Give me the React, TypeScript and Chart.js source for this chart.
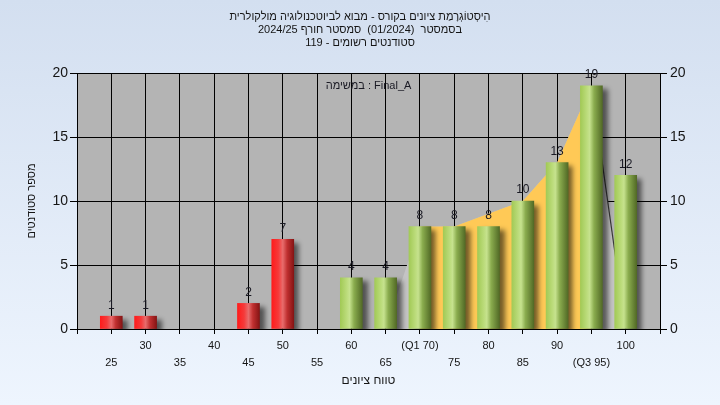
import React, { useEffect, useRef } from 'react';
import { Chart, registerables } from 'chart.js';

Chart.register(...registerables);

const FONT = '"Liberation Sans", Arial, "DejaVu Sans", sans-serif';

const titleLines = [
  'הִיסְטוֹגְרָמַת ציונים בקורס - מבוא לביוטכנולוגיה מולקולרית',
  'בסמסטר  (01/2024)  סמסטר חורף 2024/25',
  'סטודנטים רשומים - 119',
];
const annotationText = 'במשימה : Final_A';
const xTitle = 'טווח ציונים';
const yTitle = 'מספר סטודנטים';

const categories = [25, 30, 35, 40, 45, 50, 55, 60, 65, 70, 75, 80, 85, 90, 95, 100];
const tickLabels = ['25', '30', '35', '40', '45', '50', '55', '60', '65', '(Q1 70)', '75', '80', '85', '90', '(Q3 95)', '100'];
const studentCounts = [1, 1, 0, 0, 2, 7, 0, 4, 4, 8, 8, 8, 10, 13, 19, 12];
const passMark = 55;

const curveCategories = [65, 70, 75, 80, 85, 90, 95, 100];
const curveValues = [0, 8, 8, 9, 10, 13, 19, 0];
const q1 = 70;
const q3 = 95;

const yMin = 0;
const yMax = 20;
const yStep = 5;
const xMin = 20;
const xMax = 105;

function makeBarGradient(ctx: CanvasRenderingContext2D, cx: number, half: number, failing: boolean) {
  const g = ctx.createLinearGradient(cx - half, 0, cx + half, 0);
  if (failing) {
    g.addColorStop(0, '#ff1c1c');
    g.addColorStop(0.3, '#f53a3a');
    g.addColorStop(0.5, '#e86c6c');
    g.addColorStop(0.7, '#c03030');
    g.addColorStop(1, '#861414');
  } else {
    g.addColorStop(0, '#a2ca56');
    g.addColorStop(0.3, '#bcdc7c');
    g.addColorStop(0.42, '#c6e28e');
    g.addColorStop(0.62, '#8aac4e');
    g.addColorStop(1, '#526a26');
  }
  return g;
}

export default function App() {
  const canvasRef = useRef<HTMLCanvasElement | null>(null);

  useEffect(() => {
    document.body.style.margin = '0';
    const canvas = canvasRef.current;
    if (!canvas) return;

    const barData = categories.map((c, i) => ({ x: c, y: studentCounts[i] > 0 ? studentCounts[i] : null }));
    const curveData = curveCategories.map((c, i) => ({ x: c, y: curveValues[i] }));
    const iqrData = curveData.filter((p) => p.x >= q1 && p.x <= q3);

    const bgPlugin = {
      id: 'bgPlugin',
      beforeDraw(chart: any) {
        const { ctx, chartArea, width, height } = chart;
        ctx.save();
        const g = ctx.createLinearGradient(0, 0, 0, height);
        g.addColorStop(0, '#d3dff0');
        g.addColorStop(1, '#eef5fe');
        ctx.fillStyle = g;
        ctx.fillRect(0, 0, width, height);
        ctx.fillStyle = '#b4b4b4';
        ctx.fillRect(chartArea.left, chartArea.top, chartArea.right - chartArea.left, chartArea.bottom - chartArea.top);
        ctx.fillStyle = '#151515';
        ctx.font = `11px ${FONT}`;
        ctx.textAlign = 'center';
        ctx.textBaseline = 'middle';
        (ctx as any).direction = 'rtl';
        titleLines.forEach((t, i) => ctx.fillText(t, width / 2, 17 + i * 12.8));
        ctx.restore();
      },
    };

    const shadowPlugin = {
      id: 'shadowPlugin',
      beforeDatasetDraw(chart: any, args: any) {
        if (args.meta.type !== 'bar') return;
        const ctx = chart.ctx;
        ctx.save();
        ctx.shadowColor = 'rgba(0,0,0,0.55)';
        ctx.shadowOffsetX = 5;
        ctx.shadowOffsetY = 4;
        ctx.shadowBlur = 5;
      },
      afterDatasetDraw(chart: any, args: any) {
        if (args.meta.type !== 'bar') return;
        chart.ctx.restore();
      },
    };

    const labelPlugin = {
      id: 'labelPlugin',
      afterDatasetsDraw(chart: any) {
        const ctx = chart.ctx;
        const meta = chart.getDatasetMeta(0);
        ctx.save();
        ctx.font = `12px ${FONT}`;
        ctx.fillStyle = '#1a1a24';
        ctx.textAlign = 'center';
        ctx.textBaseline = 'middle';
        meta.data.forEach((el: any, i: number) => {
          const v = studentCounts[i];
          if (!v) return;
          ctx.fillText(String(v), el.x, el.y - 11);
        });
        const { left, right, top } = chart.chartArea;
        ctx.font = `11px ${FONT}`;
        ctx.fillText(annotationText, (left + right) / 2, top + 13);
        ctx.restore();
      },
    };

    const barFill = (c: any) => {
      const chart = c.chart;
      const xs = chart.scales && chart.scales.x;
      if (c.type !== 'data' || !xs) return '#a2ca56';
      const cat = categories[c.dataIndex];
      const cx = xs.getPixelForValue(cat);
      if (!Number.isFinite(cx)) return cat < passMark ? '#e83030' : '#a2ca56';
      return makeBarGradient(chart.ctx, cx, 11, cat < passMark);
    };

    const chart = new Chart(canvas, {
      type: 'bar',
      data: {
        datasets: [
          {
            type: 'bar',
            data: barData as any,
            backgroundColor: barFill as any,
            borderWidth: 0,
            barThickness: 22,
            order: 1,
          } as any,
          {
            type: 'line',
            data: iqrData as any,
            fill: 'origin',
            backgroundColor: '#ffc956',
            borderColor: 'rgba(0,0,0,0)',
            borderWidth: 0,
            pointRadius: 0,
            tension: 0,
            order: 2,
          } as any,
          {
            type: 'line',
            data: curveData as any,
            fill: 'origin',
            backgroundColor: '#c4c4c4',
            borderColor: 'rgba(0,0,0,0)',
            borderWidth: 1.2,
            pointRadius: 0,
            tension: 0,
            order: 3,
            segment: {
              borderColor: (c: any) => (c.p0.parsed.x >= q3 ? '#3a3a3a' : 'rgba(0,0,0,0)'),
            },
          } as any,
        ],
      },
      options: {
        responsive: false,
        animation: false,
        devicePixelRatio: 1,
        layout: { padding: { top: 73, left: 0, right: 0, bottom: 0 } },
        plugins: {
          legend: { display: false },
          tooltip: { enabled: false },
          title: { display: false },
        },
        scales: {
          x: {
            type: 'linear',
            min: xMin,
            max: xMax,
            offset: false,
            afterFit: (s: any) => { s.height = 76; },
            grid: { color: '#000', lineWidth: 1, tickLength: 5, offset: false, drawTicks: true },
            border: { color: '#000' },
            ticks: {
              stepSize: 5,
              autoSkip: false,
              maxRotation: 0,
              minRotation: 0,
              padding: 3,
              color: '#151515',
              font: { family: FONT, size: 11, lineHeight: 1.55 },
              callback: (v: any) => {
                const idx = categories.indexOf(Number(v));
                if (idx < 0) return '';
                return idx % 2 === 0 ? ['', tickLabels[idx]] : tickLabels[idx];
              },
            },
            title: {
              display: true,
              text: xTitle,
              color: '#151515',
              font: { family: FONT, size: 12 },
              padding: { top: 17, bottom: 17 },
            },
          },
          y: {
            type: 'linear',
            position: 'left',
            min: yMin,
            max: yMax,
            afterFit: (s: any) => { s.width = 77; },
            grid: { color: '#000', lineWidth: 1, tickLength: 7 },
            border: { color: '#000' },
            ticks: {
              stepSize: yStep,
              padding: 2,
              color: '#151515',
              font: { family: FONT, size: 14 },
            },
            title: {
              display: true,
              text: yTitle,
              color: '#151515',
              font: { family: FONT, size: 11 },
              padding: { top: 25, bottom: 25 },
            },
          },
          y2: {
            type: 'linear',
            position: 'right',
            min: yMin,
            max: yMax,
            afterFit: (s: any) => { s.width = 60; },
            grid: { color: '#000', lineWidth: 1, tickLength: 7, drawOnChartArea: false },
            border: { color: '#000' },
            ticks: {
              stepSize: yStep,
              padding: 3,
              color: '#151515',
              font: { family: FONT, size: 14 },
            },
          },
        },
      } as any,
      plugins: [bgPlugin, shadowPlugin, labelPlugin],
    });

    return () => chart.destroy();
  }, []);

  return (
    <canvas
      ref={canvasRef}
      width={720}
      height={405}
      style={{ display: 'block', width: 720, height: 405 }}
    />
  );
}
